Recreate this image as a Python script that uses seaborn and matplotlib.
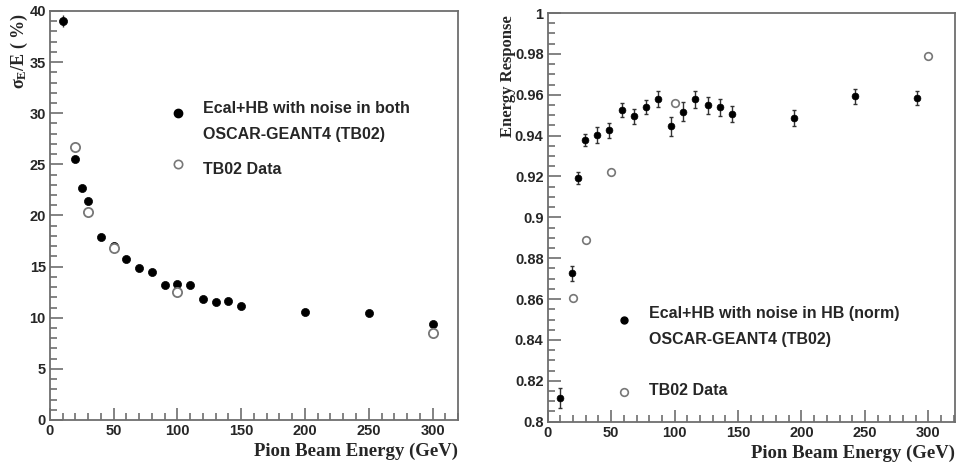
import numpy as np
import pandas as pd
import matplotlib
matplotlib.use("Agg")
import matplotlib.pyplot as plt
from matplotlib.ticker import MultipleLocator, FuncFormatter
import seaborn as sns

# ---------------- data ----------------
# Left panel: resolution sigma_E/E (%)
res_energy = [10, 20, 25, 30, 40, 50, 60, 70, 80, 90, 100, 110, 120, 130, 140, 150, 200, 250, 300]
res_sim = [39.0, 25.5, 22.7, 21.4, 17.9, 17.0, 15.7, 14.9, 14.5, 13.2, 13.3, 13.2, 11.8, 11.5, 11.6, 11.1, 10.6, 10.5, 9.4]
res_sim_err = [0.6, 0.25, 0.2, 0.2, 0.2, 0.25, 0.2, 0.25, 0.25, 0.3, 0.3, 0.3, 0.25, 0.25, 0.2, 0.2, 0.15, 0.15, 0.2]
res_data_energy = [20, 30, 50, 100, 300]
res_data = [26.7, 20.3, 16.8, 12.5, 8.5]

# Right panel: energy response
resp_sim_energy = [9.7, 19.4, 24.2, 29.1, 38.8, 48.5, 58.2, 67.9, 77.6, 87.3, 97.0, 106.7,
                   116.4, 126.1, 135.8, 145.5, 194.0, 242.5, 291.0]
resp_sim = [0.8115, 0.8726, 0.9193, 0.9379, 0.9403, 0.9426, 0.9525, 0.9495, 0.9542, 0.9578,
            0.9446, 0.9518, 0.9577, 0.9548, 0.9538, 0.9505, 0.9485, 0.9593, 0.9585]
resp_sim_err = [0.005, 0.0037, 0.0028, 0.0028, 0.004, 0.0036, 0.0034, 0.0037, 0.0034, 0.0040,
                0.0046, 0.0045, 0.0040, 0.0040, 0.0040, 0.0040, 0.0040, 0.0037, 0.0035]
resp_data_energy = [20, 30, 50, 100, 300]
resp_data = [0.8604, 0.8889, 0.9222, 0.956, 0.979]

left_legend = ["Ecal+HB with noise in both", "OSCAR-GEANT4 (TB02)", "TB02 Data"]
right_legend = ["Ecal+HB with noise in HB (norm)", "OSCAR-GEANT4 (TB02)", "TB02 Data"]

# ---------------- style ----------------
sns.set_style("ticks")
plt.rcParams["font.family"] = ["Liberation Sans", "DejaVu Sans"]
plt.rcParams["mathtext.fontset"] = "custom"
plt.rcParams["mathtext.rm"] = "Liberation Serif:bold"
plt.rcParams["mathtext.it"] = "Liberation Serif:bold"
plt.rcParams["mathtext.bf"] = "Liberation Serif:bold"

FRAME = "#6e6e6e"
serif = ["Liberation Serif", "DejaVu Serif"]
LEG_FS = 11.5

fig = plt.figure(figsize=(9.57, 4.68), dpi=100)
axL = fig.add_axes([0.0522, 0.1026, 0.4264, 0.8739])
axR = fig.add_axes([0.5723, 0.0989, 0.4256, 0.8733])

dfL = pd.DataFrame({"E": res_energy, "v": res_sim})
dfLd = pd.DataFrame({"E": res_data_energy, "v": res_data})
dfR = pd.DataFrame({"E": resp_sim_energy, "v": resp_sim})
dfRd = pd.DataFrame({"E": resp_data_energy, "v": resp_data})


def style_axes(ax):
    for s in ax.spines.values():
        s.set_color(FRAME)
        s.set_linewidth(1.3)
        s.set_visible(True)
    ax.tick_params(which="both", direction="in", color=FRAME, width=1.2,
                   top=False, right=False, labelsize=10.5, pad=3)
    ax.tick_params(which="major", length=9)
    ax.tick_params(which="minor", length=5)
    for lab in ax.get_xticklabels() + ax.get_yticklabels():
        lab.set_fontweight("bold")


def set_labels(ax, xlab, ylab, yfs, yx):
    ax.set_xlabel(xlab, fontfamily=serif, fontweight="bold", fontsize=13.5)
    ax.xaxis.set_label_coords(1.0, -0.055)
    ax.xaxis.label.set_horizontalalignment("right")
    ax.set_ylabel(ylab, fontfamily=serif, fontweight="bold", fontsize=yfs)
    ax.yaxis.set_label_coords(yx, 0.995)
    ax.yaxis.label.set_verticalalignment("center")
    ax.yaxis.label.set_horizontalalignment("right")


# ----- Left panel -----
axL.errorbar(dfL["E"], dfL["v"], yerr=res_sim_err, fmt="none", ecolor="#333333",
             elinewidth=1.0, capsize=0, zorder=2)
sns.scatterplot(data=dfL, x="E", y="v", ax=axL, color="black", s=34, edgecolor="black",
                linewidth=0.5, zorder=3, legend=False)
sns.scatterplot(data=dfLd, x="E", y="v", ax=axL, facecolor="white", s=44,
                edgecolor="#777777", linewidth=1.3, zorder=4, legend=False)
axL.set_xlim(0, 320)
axL.set_ylim(0, 40)
axL.xaxis.set_major_locator(MultipleLocator(50))
axL.xaxis.set_minor_locator(MultipleLocator(10))
axL.yaxis.set_major_locator(MultipleLocator(5))
axL.yaxis.set_minor_locator(MultipleLocator(1))
set_labels(axL, "Pion Beam Energy (GeV)", r"$\sigma_{E}$/E ( %)", 13, -0.076)
style_axes(axL)

# legend (left)
axL.plot([0.313], [0.750], "o", transform=axL.transAxes, color="black", ms=6, clip_on=False)
axL.plot([0.313], [0.625], "o", transform=axL.transAxes, mfc="white", mec="#777777",
         mew=1.2, ms=6, clip_on=False)
for txt, yy in zip(left_legend, [0.762, 0.6985, 0.613]):
    axL.text(0.375, yy, txt, transform=axL.transAxes, fontsize=LEG_FS,
             fontweight="bold", va="center", ha="left")

# ----- Right panel -----
axR.errorbar(dfR["E"], dfR["v"], yerr=resp_sim_err, fmt="none", ecolor="#333333",
             elinewidth=1.0, capsize=1.5, capthick=1.0, zorder=2)
sns.scatterplot(data=dfR, x="E", y="v", ax=axR, color="black", marker="o", s=24,
                edgecolor="black", linewidth=0.5, zorder=3, legend=False)
sns.scatterplot(data=dfRd, x="E", y="v", ax=axR, facecolor="white", s=30,
                edgecolor="#777777", linewidth=1.2, zorder=4, legend=False)
axR.set_xlim(0, 321)
axR.set_ylim(0.8, 1.0)
axR.xaxis.set_major_locator(MultipleLocator(50))
axR.xaxis.set_minor_locator(MultipleLocator(10))
axR.yaxis.set_major_locator(MultipleLocator(0.02))
axR.yaxis.set_minor_locator(MultipleLocator(0.005))
axR.yaxis.set_major_formatter(FuncFormatter(lambda v, p: f"{v:g}"))
set_labels(axR, "Pion Beam Energy (GeV)", "Energy Response", 12, -0.097)
style_axes(axR)

# legend (right)
axR.plot([0.187], [0.2488], "o", transform=axR.transAxes, color="black", ms=5, clip_on=False)
axR.plot([0.187], [0.0734], "o", transform=axR.transAxes, mfc="white", mec="#777777",
         mew=1.2, ms=5.5, clip_on=False)
for txt, yy in zip(right_legend, [0.2652, 0.2, 0.0758]):
    axR.text(0.248, yy, txt, transform=axR.transAxes, fontsize=LEG_FS,
             fontweight="bold", va="center", ha="left")

fig.savefig("out.png", dpi=100)
